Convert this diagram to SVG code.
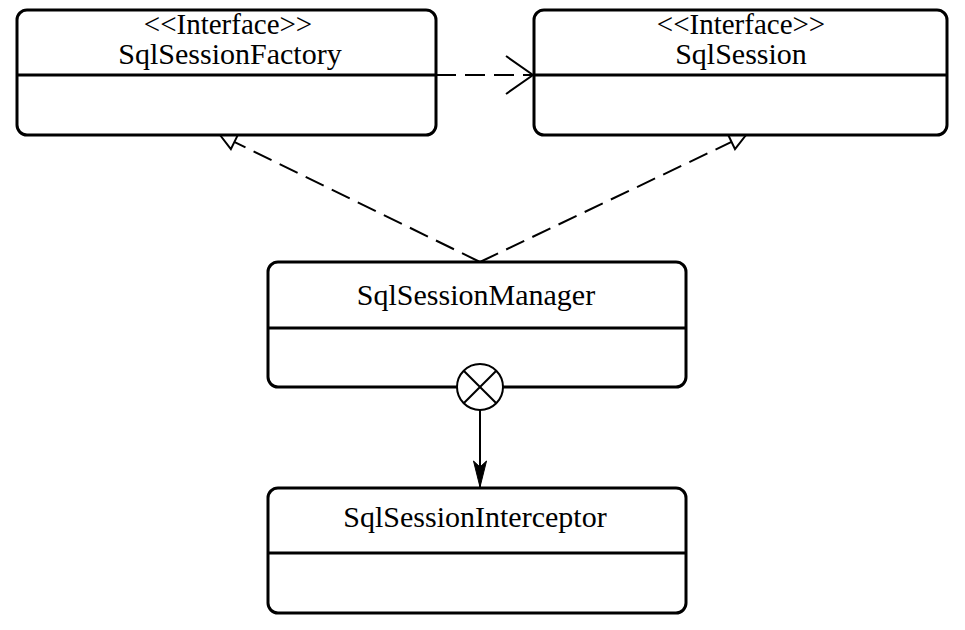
<svg xmlns="http://www.w3.org/2000/svg" width="965" height="630" viewBox="0 0 965 630">
<style>
.box{fill:#fff;stroke:#000;stroke-width:3}
.div{stroke:#000;stroke-width:3}
.t{font-family:"Liberation Serif","Times New Roman",serif;font-size:30px;fill:#000;text-anchor:middle}
.st{font-size:29px}
.dash{fill:none;stroke:#000;stroke-width:2;stroke-dasharray:20 9}
.solid{fill:none;stroke:#000;stroke-width:2}
</style>
<defs>
<marker id="realize" markerUnits="userSpaceOnUse" viewBox="-18 -10 20 20" markerWidth="20" markerHeight="20" refX="0" refY="0" orient="auto">
<path d="M0,0 L-16,-8 L-16,8 Z" fill="#fff" stroke="#000" stroke-width="2"/>
</marker>
<marker id="open" markerUnits="userSpaceOnUse" viewBox="-30 -22 32 44" markerWidth="32" markerHeight="44" refX="0" refY="0" orient="auto">
<path d="M-27,-19 L0,0 L-27,19" fill="none" stroke="#000" stroke-width="2"/>
</marker>
<marker id="filled" markerUnits="userSpaceOnUse" viewBox="-28 -8 30 16" markerWidth="30" markerHeight="16" refX="0" refY="0" orient="auto">
<path d="M0,0 L-26,-6.5 L-20,0 L-26,6.5 Z" fill="#000" stroke="#000" stroke-width="1"/>
</marker>
</defs>
<g id="connectors">
<line class="dash" x1="436" y1="75" x2="533" y2="75" marker-end="url(#open)"/>
<line class="dash" x1="480" y1="262" x2="220" y2="135" marker-end="url(#realize)"/>
<line class="dash" x1="480" y1="262" x2="746" y2="135" marker-end="url(#realize)"/>
<line class="solid" x1="480" y1="410" x2="480" y2="487" marker-end="url(#filled)"/>
</g>
<g id="SqlSessionFactory">
<rect class="box" x="17" y="10" width="419" height="125" rx="10"/>
<line class="div" x1="17" y1="75" x2="436" y2="75"/>
<text class="t st" x="228" y="34">&lt;&lt;Interface&gt;&gt;</text>
<text class="t" x="230" y="64">SqlSessionFactory</text>
</g>
<g id="SqlSession">
<rect class="box" x="534" y="10" width="413" height="125" rx="10"/>
<line class="div" x1="534" y1="75" x2="947" y2="75"/>
<text class="t st" x="741" y="34">&lt;&lt;Interface&gt;&gt;</text>
<text class="t" x="741" y="64">SqlSession</text>
</g>
<g id="SqlSessionManager">
<rect class="box" x="268" y="262" width="418" height="125" rx="10"/>
<line class="div" x1="268" y1="328" x2="686" y2="328"/>
<text class="t" x="476" y="305">SqlSessionManager</text>
<circle cx="480" cy="387" r="23" fill="#fff" stroke="#000" stroke-width="2"/>
<line class="solid" x1="463.7" y1="370.7" x2="496.3" y2="403.3"/>
<line class="solid" x1="496.3" y1="370.7" x2="463.7" y2="403.3"/>
</g>
<g id="SqlSessionInterceptor">
<rect class="box" x="268" y="488" width="418" height="125" rx="10"/>
<line class="div" x1="268" y1="553" x2="686" y2="553"/>
<text class="t" x="475" y="527">SqlSessionInterceptor</text>
</g>
</svg>
